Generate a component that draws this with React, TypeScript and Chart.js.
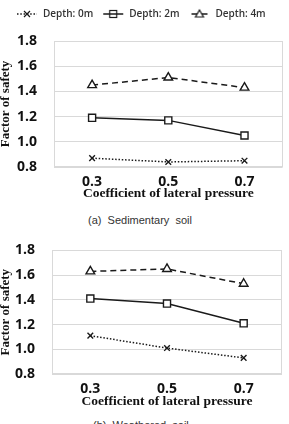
import React, { useEffect, useRef } from 'react';
import { Chart, registerables } from 'chart.js';

Chart.register(...registerables);

// Coefficient of lateral pressure (x categories)
const pressureLabels = ['0.3', '0.5', '0.7'];
const seriesNames = ['Depth: 0m', 'Depth: 2m', 'Depth: 4m'];

// (a) Sedimentary soil — factor of safety
const sedimentary0m = [0.87, 0.84, 0.85];
const sedimentary2m = [1.19, 1.17, 1.05];
const sedimentary4m = [1.45, 1.51, 1.43];

// (b) Weathered soil — factor of safety
const weathered0m = [1.11, 1.01, 0.93];
const weathered2m = [1.41, 1.37, 1.21];
const weathered4m = [1.63, 1.65, 1.53];

const yMin = 0.8;
const yMax = 1.8;
const yStep = 0.2;

const INK = '#1a1a1a';
const GRID = '#d9d9d9';
const TICK_FONT = { family: '"Open Sans", sans-serif', size: 14, weight: 'bold' as const };
const TITLE_FONT = { family: '"Liberation Serif", "Times New Roman", serif', weight: 'bold' as const, lineHeight: 1 };

const seriesStyle = [
  { dash: [1.5, 1.8], point: 'crossRot', radius: 4 },
  { dash: [], point: 'rect', radius: 5 },
  { dash: [6, 4], point: 'triangle', radius: 5 },
];

// Small line + marker swatches used as legend symbols
function makeSwatch(i: number): HTMLCanvasElement {
  const c = document.createElement('canvas');
  c.width = 22;
  c.height = 12;
  const ctx = c.getContext('2d')!;
  ctx.strokeStyle = INK;
  ctx.lineWidth = 1.5;
  const cx = 11;
  const cy = 6;
  if (i === 0) {
    ctx.setLineDash([1.5, 1.8]);
    ctx.beginPath();
    ctx.moveTo(1, cy);
    ctx.lineTo(21, cy);
    ctx.stroke();
    ctx.setLineDash([]);
    ctx.lineWidth = 1.2;
    ctx.beginPath();
    ctx.moveTo(cx - 3, cy - 3);
    ctx.lineTo(cx + 3, cy + 3);
    ctx.moveTo(cx + 3, cy - 3);
    ctx.lineTo(cx - 3, cy + 3);
    ctx.stroke();
  } else if (i === 1) {
    ctx.lineWidth = 1.2;
    ctx.strokeRect(cx - 3.5, cy - 3.5, 7, 7);
    ctx.lineWidth = 1.5;
    ctx.beginPath();
    ctx.moveTo(1, cy);
    ctx.lineTo(21, cy);
    ctx.stroke();
  } else {
    ctx.beginPath();
    ctx.moveTo(3, cy);
    ctx.lineTo(19, cy);
    ctx.stroke();
    ctx.lineWidth = 1.2;
    ctx.fillStyle = '#fff';
    ctx.beginPath();
    ctx.moveTo(cx, cy - 4);
    ctx.lineTo(cx + 4, cy + 3);
    ctx.lineTo(cx - 4, cy + 3);
    ctx.closePath();
    ctx.fill();
    ctx.stroke();
  }
  return c;
}

// Thin grey border around the plotting area
const plotFrame = {
  id: 'plotFrame',
  beforeDatasetsDraw(chart: any) {
    const { ctx, chartArea } = chart;
    const l = Math.round(chartArea.left) + 0.5;
    const t = Math.round(chartArea.top) + 0.5;
    const r = Math.round(chartArea.right) - 0.5;
    const b = Math.round(chartArea.bottom) - 0.5;
    ctx.save();
    ctx.strokeStyle = GRID;
    ctx.lineWidth = 1;
    ctx.strokeRect(l, t, r - l, b - t);
    ctx.restore();
  },
};

type PanelProps = {
  top: number;
  height: number;
  series: number[][];
  pad: { top: number; left: number; right: number; bottom: number };
  yWidth: number;
  xHeight: number;
  yTitlePad: number;
  withLegend: boolean;
};

function Panel({ top, height, series, pad, yWidth, xHeight, yTitlePad, withLegend }: PanelProps) {
  const ref = useRef<HTMLCanvasElement>(null);

  useEffect(() => {
    const swatches = seriesNames.map((_, i) => makeSwatch(i));
    const chart = new Chart(ref.current!, {
      type: 'line',
      data: {
        labels: pressureLabels,
        datasets: series.map((values, i) => ({
          label: seriesNames[i],
          data: values,
          borderColor: INK,
          backgroundColor: '#fff',
          borderWidth: 1.5,
          borderDash: seriesStyle[i].dash,
          pointStyle: seriesStyle[i].point as any,
          pointRadius: seriesStyle[i].radius,
          pointBorderWidth: 1.4,
          pointBackgroundColor: '#fff',
          pointBorderColor: INK,
          tension: 0,
          fill: false,
        })),
      },
      options: {
        responsive: false,
        animation: false,
        layout: { padding: pad },
        plugins: {
          legend: {
            display: withLegend,
            position: 'top',
            align: 'start',
            labels: {
              usePointStyle: true,
              pointStyleWidth: 22,
              padding: 9,
              color: '#333',
              font: { family: '"Open Sans", sans-serif', size: 10, weight: 600 as any },
              generateLabels: (c: any) =>
                c.data.datasets.map((ds: any, i: number) => ({
                  text: ds.label,
                  pointStyle: swatches[i],
                  fillStyle: '#fff',
                  strokeStyle: INK,
                  lineWidth: 0,
                  hidden: false,
                  datasetIndex: i,
                  fontColor: '#333',
                })),
            },
          },
          // spacer between the legend and the plot
          title: {
            display: withLegend,
            text: '',
            weight: 500,
            padding: 0,
            font: { size: 12, lineHeight: 1 },
          },
          tooltip: { enabled: false },
        },
        scales: {
          x: {
            type: 'category',
            offset: true,
            grid: { display: false, drawTicks: false },
            border: { display: false },
            ticks: { color: '#111', font: TICK_FONT, padding: 7 },
            title: {
              display: true,
              text: 'Coefficient of lateral pressure',
              color: '#111',
              font: { ...TITLE_FONT, size: 13.5 },
              padding: 0,
            },
            afterFit: (s: any) => {
              s.height = xHeight;
            },
          },
          y: {
            min: yMin,
            max: yMax,
            ticks: {
              stepSize: yStep,
              color: '#111',
              font: TICK_FONT,
              padding: 17,
              callback: (v: any) => Number(v).toFixed(1),
            },
            grid: { color: GRID, lineWidth: 1, drawTicks: false },
            border: { display: true, color: GRID },
            title: {
              display: true,
              text: 'Factor of safety',
              color: '#111',
              font: { ...TITLE_FONT, size: 13 },
              padding: { top: yTitlePad, bottom: 0 },
            },
            afterFit: (s: any) => {
              s.width = yWidth;
            },
          },
        },
      },
      plugins: [plotFrame],
    } as any);
    return () => chart.destroy();
  }, []);

  return (
    <canvas
      ref={ref}
      width={289}
      height={height}
      style={{ position: 'absolute', left: 0, top, width: 289, height, display: 'block' }}
    />
  );
}

const captionStyle: React.CSSProperties = {
  position: 'absolute',
  fontFamily: '"Liberation Sans", Arial, sans-serif',
  fontSize: 11,
  lineHeight: '11px',
  color: '#333',
  whiteSpace: 'pre',
};

export default function App() {
  return (
    <div
      style={{
        position: 'absolute',
        left: 0,
        top: 0,
        width: 289,
        height: 424,
        overflow: 'hidden',
        background: '#fff',
      }}
    >
      <Panel
        top={0}
        height={205}
        series={[sedimentary0m, sedimentary2m, sedimentary4m]}
        pad={{ top: 0, left: 7, right: 5, bottom: 5 }}
        yWidth={47}
        xHeight={33}
        yTitlePad={-8}
        withLegend={true}
      />
      <div style={{ ...captionStyle, left: 88, top: 215 }}>{'(a)  Sedimentary  soil'}</div>
      <Panel
        top={225}
        height={185}
        series={[weathered0m, weathered2m, weathered4m]}
        pad={{ top: 22, left: 0, right: 7, bottom: 1.5 }}
        yWidth={52}
        xHeight={34.5}
        yTitlePad={-1}
        withLegend={false}
      />
      <div style={{ ...captionStyle, left: 93, top: 420 }}>{'(b)  Weathered  soil'}</div>
    </div>
  );
}
